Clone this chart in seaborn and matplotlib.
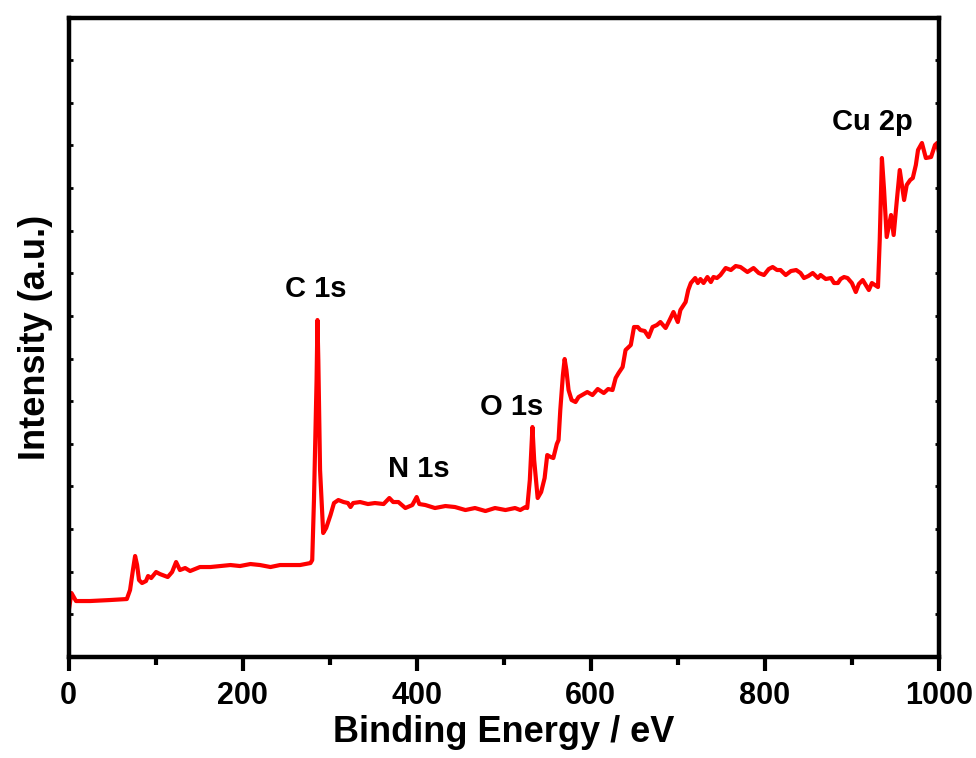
import numpy as np
import pandas as pd
import matplotlib
matplotlib.use("Agg")
import matplotlib.pyplot as plt
import seaborn as sns

# Binding energy (eV) and intensity (a.u.)
binding_energy = [
    0, 3.4, 8.6, 24.7, 47.7, 67, 70.7, 74, 76.5, 78.8, 81, 84.5, 89, 91.4, 95,
    100.6, 105, 114, 119, 123.6, 128, 134, 139.7, 151, 163, 174, 186, 197, 209,
    220, 232, 243, 255, 266, 278, 280, 282, 285, 286, 287, 289, 292.6, 296, 301,
    305, 310, 316, 321, 324, 327, 335, 344, 352, 362, 368.6, 373, 379, 387, 395,
    400, 403, 410, 421, 433, 444, 456, 467, 479, 490, 502, 513, 519, 525, 527,
    530, 533, 535, 539, 543, 547, 550, 554, 557, 561, 563, 565, 568, 570, 572,
    574.5, 578, 582.5, 586, 592, 596, 602, 608, 615, 620, 625, 628.6, 632, 636.6,
    640, 646, 649.7, 654, 657, 662, 666.5, 671, 676, 680, 686, 690.6, 695, 700,
    703, 709, 712, 715, 720, 723, 726, 729.6, 734, 738, 741, 745, 749, 755, 761,
    766.5, 772, 780, 787, 793, 799, 804.5, 809, 814, 818, 824, 830, 836, 841,
    845, 850, 855, 861, 864, 870, 876, 879.5, 884, 887, 891, 895, 900, 904.5,
    908, 912.5, 916, 919.5, 923, 926.4, 930, 932, 934.5, 937, 940, 942, 945,
    948, 951.7, 955, 960, 963, 967, 970, 973.5, 976, 980.5, 985, 991, 995.5,
    998, 1000,
]
intensity = [
    45, 64, 56, 56, 57, 58, 67, 87, 101, 92, 77, 74, 76, 81, 79,
    85, 83, 80, 85, 95, 87, 89, 86, 90, 90, 91, 92, 91, 93,
    92, 90, 92, 92, 92, 94, 97, 157, 277, 337, 297, 187, 124, 129, 142,
    154, 157, 155, 154, 150, 154, 155, 153, 154, 153, 159, 155, 155, 149, 152,
    160, 153, 152, 149, 151, 150, 147, 149, 146, 149, 147, 149, 147, 150, 149,
    177, 230, 197, 159, 165, 179, 202, 200, 199, 213, 217, 247, 282, 298, 287,
    267, 257, 255, 260, 263, 265, 262, 268, 264, 268, 267, 279, 284, 290,
    307, 312, 330, 330, 327, 326, 320, 330, 332, 335, 329, 337, 345, 335,
    347, 355, 367, 374, 379, 374, 378, 374, 380, 375, 380, 379, 382, 389, 387,
    391, 390, 385, 389, 384, 382, 388, 390, 387, 387, 382, 386, 387, 384,
    379, 381, 384, 379, 382, 378, 379, 374, 374, 378, 380, 379, 374, 365,
    373, 377, 372, 367, 374, 372, 370, 417, 499, 467, 420, 429, 442,
    422, 457, 487, 457, 472, 477, 479, 492, 507, 514, 499, 500, 512,
    514, 505,
]

peak_labels = ["C 1s", "N 1s", "O 1s", "Cu 2p"]
peak_label_x = [284.6, 402, 509, 923]
peak_label_y = [360, 180, 242, 527]

x_ticks = [0, 200, 400, 600, 800, 1000]

sns.set_theme(style="white")
plt.rcParams["font.family"] = ["Liberation Sans", "DejaVu Sans"]
plt.rcParams["font.weight"] = "bold"
plt.rcParams["text.color"] = "black"
plt.rcParams["axes.labelcolor"] = "black"
plt.rcParams["xtick.color"] = "black"
plt.rcParams["ytick.color"] = "black"
plt.rcParams["lines.solid_joinstyle"] = "round"

df = pd.DataFrame({"Binding Energy": binding_energy, "Intensity": intensity})

fig = plt.figure(figsize=(9.76, 7.58), dpi=100)
ax = fig.add_axes([0.0702, 0.1332, 0.8918, 0.8437])

sns.lineplot(data=df, x="Binding Energy", y="Intensity", ax=ax,
             color="#ff0000", linewidth=3.0, sort=False)

ax.set_xlim(0, 1000)
ax.set_ylim(0, 639.5)
ax.set_xticks(x_ticks)
ax.set_xticks(np.arange(100, 1000, 200), minor=True)
ax.set_xticklabels([str(t) for t in x_ticks], fontsize=22, fontweight="bold",
                   color="black")
ax.set_yticks(np.linspace(0, 639.5, 16))
ax.set_yticklabels([])

for side in ["left", "right", "top", "bottom"]:
    ax.spines[side].set_visible(True)
    ax.spines[side].set_linewidth(3.2)
    ax.spines[side].set_color("black")

ax.tick_params(axis="x", which="major", direction="out", length=10, width=3,
               color="black", labelcolor="black", pad=7, bottom=True, top=False)
ax.tick_params(axis="x", which="minor", direction="out", length=6, width=3,
               color="black", bottom=True, top=False)
ax.tick_params(axis="y", which="major", direction="in", length=3, width=2,
               color="black", left=True, right=True)

ax.set_xlabel("Binding Energy / eV", fontsize=26, fontweight="bold",
              labelpad=3, color="black")
ax.set_ylabel("Intensity (a.u.)", fontsize=26, fontweight="bold",
              labelpad=8, color="black")

for lab, lx, ly in zip(peak_labels, peak_label_x, peak_label_y):
    ax.text(lx, ly, lab, ha="center", va="baseline", fontsize=21,
            fontweight="bold", color="black")

fig.savefig("out.png", dpi=100)
